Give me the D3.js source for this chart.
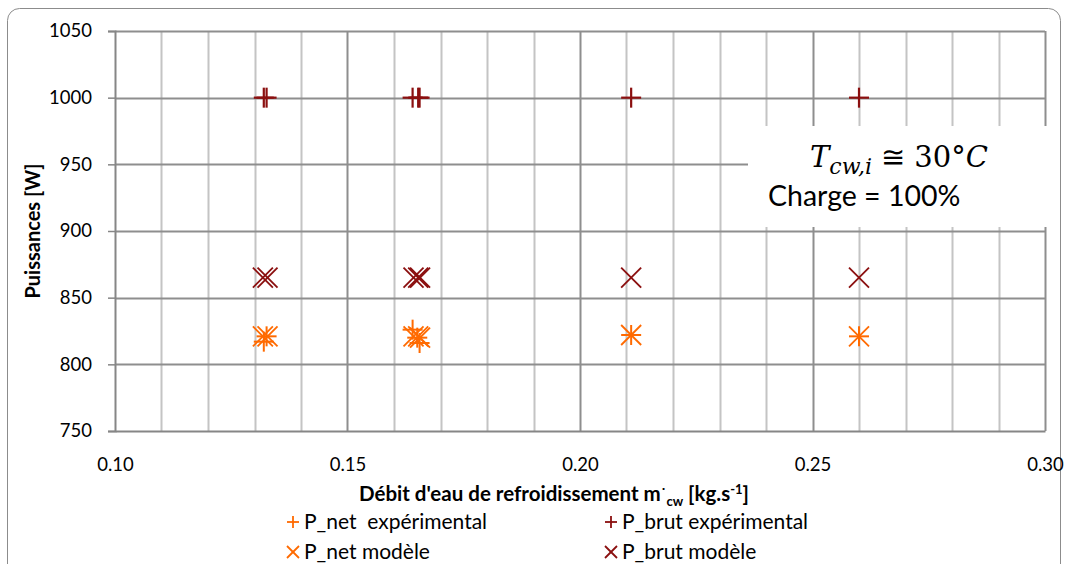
<!DOCTYPE html>
<html lang="fr">
<head>
<meta charset="UTF-8">
<title>Puissances</title>
<script src="https://d3js.org/d3.v7.min.js"></script>
<style>
body { margin: 0; background: #fff; }
svg text { font-family: Lato, "Open Sans", sans-serif; fill: #000; white-space: pre; }
.math text, text.math { font-family: "DejaVu Serif", "Liberation Serif", serif; }
</style>
</head>
<body>
<div id="chart"></div>
<script>
// tick labels
const xTicks = [0.10, 0.15, 0.20, 0.25, 0.30];
const yTicks = [750, 800, 850, 900, 950, 1000, 1050];

// debit values (kg/s) and power values (W)
const netExpX  = [0.132, 0.1326, 0.164, 0.165, 0.1655, 0.211, 0.26];
const netExpY  = [817, 821, 826, 820, 816, 822, 821];
const brutExpX = [0.132, 0.1326, 0.164, 0.1652, 0.1655, 0.211, 0.26];
const brutExpY = [1000, 1000, 1000, 1000, 1000, 1000, 1000];
const netModX  = [0.1318, 0.1328, 0.1642, 0.1652, 0.1656, 0.211, 0.26];
const netModY  = [821, 821, 821, 821, 820, 822, 821];
const brutModX = [0.1318, 0.1328, 0.1642, 0.1652, 0.1656, 0.211, 0.26];
const brutModY = [865, 865, 865, 865, 865, 865, 865];

const orange = "#ff6a00";
const darkred = "#8b0f0f";

const W = 1069, H = 564;
const margin = { top: 31, right: 24, bottom: 133, left: 115 };
const width = W - margin.left - margin.right;   // 930
const height = H - margin.top - margin.bottom;  // 400

const svg = d3.select("#chart").append("svg")
  .attr("width", W).attr("height", H);

// chart border
svg.append("rect")
  .attr("x", 7.5).attr("y", 8.5)
  .attr("width", 1053).attr("height", 570)
  .attr("rx", 12)
  .attr("fill", "#fff")
  .attr("stroke", "#8c8c8c");

const g = svg.append("g").attr("transform", `translate(${margin.left},${margin.top})`);

const x = d3.scaleLinear().domain([0.10, 0.30]).range([0, width]);
const y = d3.scaleLinear().domain([750, 1050]).range([height, 0]);

// minor vertical grid
g.append("g").selectAll("line")
  .data(x.ticks(20).filter(v => !xTicks.some(t => Math.abs(t - v) < 1e-9)))
  .join("line")
  .attr("x1", d => Math.round(x(d)) + 0.5).attr("x2", d => Math.round(x(d)) + 0.5)
  .attr("y1", 0).attr("y2", height)
  .attr("stroke", "#c4c4c4").attr("stroke-width", 2);

// major vertical grid
g.append("g").selectAll("line")
  .data(xTicks.slice(1))
  .join("line")
  .attr("x1", d => Math.round(x(d)) + 0.5).attr("x2", d => Math.round(x(d)) + 0.5)
  .attr("y1", 0).attr("y2", height)
  .attr("stroke", "#8e8e8e").attr("stroke-width", 2);

// horizontal grid
g.append("g").selectAll("line")
  .data(yTicks.slice(1))
  .join("line")
  .attr("x1", 0).attr("x2", width)
  .attr("y1", d => Math.round(y(d)) + 0.5).attr("y2", d => Math.round(y(d)) + 0.5)
  .attr("stroke", "#8e8e8e").attr("stroke-width", 2);

// axes
const yAxis = g.append("g")
  .call(d3.axisLeft(y).tickValues(yTicks).tickSize(7).tickPadding(16).tickFormat(d3.format("d")));
const xAxis = g.append("g")
  .attr("transform", `translate(0,${height})`)
  .call(d3.axisBottom(x).tickValues(xTicks).tickSize(0).tickPadding(27).tickFormat(d3.format(".2f")));
[yAxis, xAxis].forEach(a => {
  a.attr("font-size", null).attr("font-family", null);
  a.select(".domain").attr("stroke", "#868686").attr("stroke-width", 2);
  a.selectAll(".tick line").attr("stroke", "#868686").attr("stroke-width", 1.5);
  a.selectAll(".tick text").style("font-size", "18.5px").attr("fill", "#000");
});

// annotation box
g.append("rect")
  .attr("x", 633).attr("y", 95).attr("width", 300).attr("height", 101)
  .attr("fill", "#fff");

const ann = g.append("text").attr("class", "math")
  .attr("x", 695).attr("y", 136)
  .style("font-size", "29px");
ann.append("tspan").attr("font-style", "italic").text("T");
ann.append("tspan").attr("font-style", "italic").attr("dy", 7).style("font-size", "22px").text("cw,i");
ann.append("tspan").attr("dy", -7).text(" ≅ 30°");
ann.append("tspan").attr("font-style", "italic").text("C");

g.append("text")
  .attr("x", 653).attr("y", 175)
  .style("font-size", "28.5px")
  .text("Charge = 100%");

// markers
function plus(sel, s) {
  sel.append("line").attr("x1", -s).attr("x2", s).attr("y1", 0).attr("y2", 0);
  sel.append("line").attr("x1", 0).attr("x2", 0).attr("y1", -s).attr("y2", s);
}
function cross(sel, s) {
  sel.append("line").attr("x1", -s).attr("x2", s).attr("y1", -s).attr("y2", s);
  sel.append("line").attr("x1", -s).attr("x2", s).attr("y1", s).attr("y2", -s);
}

const series = [
  { xs: brutModX, ys: brutModY, color: darkred, shape: cross, sw: 1.8 },
  { xs: brutExpX, ys: brutExpY, color: darkred, shape: plus, sw: 2.2 },
  { xs: netModX,  ys: netModY,  color: orange,  shape: cross, sw: 1.8 },
  { xs: netExpX,  ys: netExpY,  color: orange,  shape: plus, sw: 2 }
];

series.forEach(s => {
  g.append("g").selectAll("g")
    .data(s.xs.map((v, i) => [v, s.ys[i]]))
    .join("g")
    .attr("transform", d => `translate(${x(d[0])},${y(d[1])})`)
    .attr("stroke", s.color).attr("stroke-width", s.sw)
    .each(function () { s.shape(d3.select(this), 10); });
});

// axis titles
svg.append("text")
  .attr("transform", "translate(40,231) rotate(-90)")
  .attr("text-anchor", "middle")
  .style("font-size", "20px").style("font-weight", "bold")
  .text("Puissances [W]");

const xt = svg.append("text")
  .attr("x", 554).attr("y", 501)
  .attr("text-anchor", "middle")
  .style("font-size", "20.5px").style("font-weight", "bold");
xt.append("tspan").text("Débit d'eau de refroidissement m");
xt.append("tspan").attr("dy", -3).style("font-size", "14px").text("˙");
xt.append("tspan").attr("dy", 8).style("font-size", "13px").text("cw");
xt.append("tspan").attr("dy", -5).text(" [kg.s");
xt.append("tspan").attr("dy", -7).style("font-size", "13px").text("-1");
xt.append("tspan").attr("dy", 7).text("]");

// legend
const legendItems = [
  { color: orange,  shape: plus,  label: "P_net  expérimental", x: 293, y: 522 },
  { color: darkred, shape: plus,  label: "P_brut expérimental", x: 611, y: 522 },
  { color: orange,  shape: cross, label: "P_net modèle", x: 293, y: 552 },
  { color: darkred, shape: cross, label: "P_brut modèle", x: 611, y: 552 }
];
const lg = svg.append("g").selectAll("g").data(legendItems).join("g")
  .attr("transform", d => `translate(${d.x},${d.y})`);
lg.each(function (d) {
  const m = d3.select(this).append("g").attr("stroke", d.color).attr("stroke-width", 1.8);
  d.shape(m, 6);
  d3.select(this).append("text")
    .attr("x", 11).attr("y", 7)
    .style("font-size", "21px")
    .text(d.label);
});
</script>
</body>
</html>
